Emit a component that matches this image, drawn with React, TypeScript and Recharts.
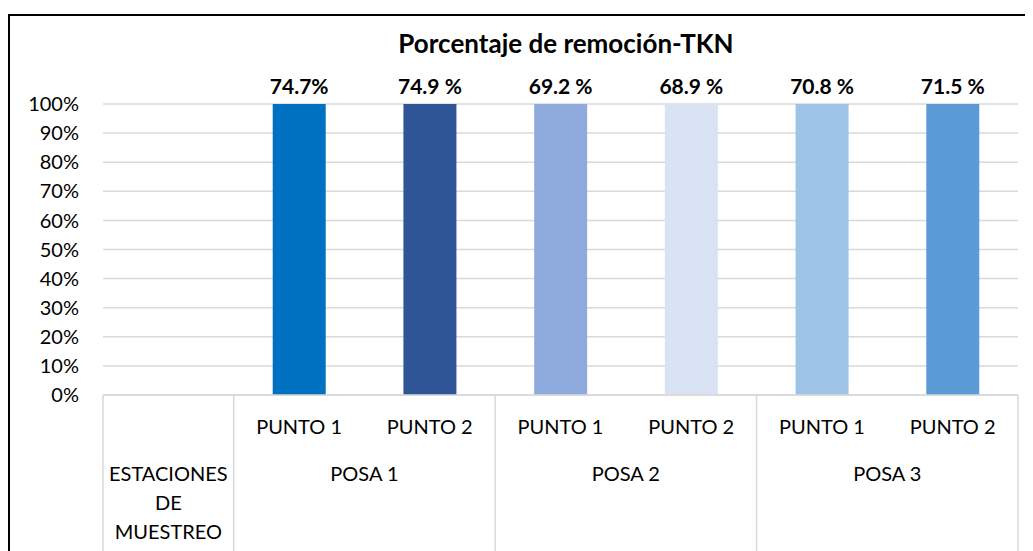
import React from "react";
import { BarChart, Bar, XAxis, YAxis, CartesianGrid, Cell, LabelList } from "recharts";

const stations = ["", "PUNTO 1", "PUNTO 2", "PUNTO 1", "PUNTO 2", "PUNTO 1", "PUNTO 2"];
const groups = ["ESTACIONES\nDE\nMUESTREO", "POSA 1", "POSA 1", "POSA 2", "POSA 2", "POSA 3", "POSA 3"];
const barValues: (number | null)[] = [null, 100, 100, 100, 100, 100, 100];
const removalLabels = ["", "74.7%", "74.9 %", "69.2 %", "68.9 %", "70.8 %", "71.5 %"];
const barColors = ["#ffffff", "#0070C0", "#2F5597", "#8FAADC", "#DAE3F3", "#9DC3E6", "#5B9BD5"];
const yTicks = [0, 10, 20, 30, 40, 50, 60, 70, 80, 90, 100];
const title = "Porcentaje de remoción-TKN";

const data = stations.map((s, i) => ({
  key: String(i),
  station: s,
  group: groups[i],
  value: barValues[i],
  label: removalLabels[i],
}));

const W = 1025;
const H = 543;
const M = { top: 96, right: 15, left: 0, bottom: 0 };
const Y_W = 95;
const X_H = 156;
const PLOT_W = W - M.left - M.right - Y_W;
const BAND = PLOT_W / data.length;
const FONT = "Lato, 'Open Sans', sans-serif";
const GRID = "#d9d9d9";

const XTick = (props: any) => {
  const { x, y, payload } = props;
  const i = payload.index;
  const g = groups[i];
  const isEnd = i === groups.length - 1 || groups[i + 1] !== g;
  let start = i;
  while (start > 0 && groups[start - 1] === g) start--;
  const runLen = i - start + 1;
  const groupCenter = x - ((runLen - 1) * BAND) / 2;
  const lines = g.split("\n");
  return (
    <g>
      {i === 0 && <line x1={x - BAND / 2} x2={x - BAND / 2} y1={y} y2={y + 200} stroke={GRID} strokeWidth={1.5} />}
      {stations[i] && (
        <text x={x} y={y + 39} textAnchor="middle" fontFamily={FONT} fontSize={20} fill="#000">
          {stations[i]}
        </text>
      )}
      {isEnd && (
        <>
          <line x1={x + BAND / 2} x2={x + BAND / 2} y1={y} y2={y + 200} stroke={GRID} strokeWidth={1.5} />
          {lines.map((ln, k) => (
            <text key={k} x={groupCenter} y={y + 86 + k * 29} textAnchor="middle" fontFamily={FONT} fontSize={20} fill="#000">
              {ln}
            </text>
          ))}
        </>
      )}
    </g>
  );
};

const TopLabel = (props: any) => {
  const { x, y, width, value } = props;
  if (!value) return null;
  return (
    <text x={x + width / 2} y={y - 10} textAnchor="middle" fontFamily={FONT} fontWeight="bold" fontSize={21} fill="#000">
      {value}
    </text>
  );
};

export default function App() {
  return (
    <div style={{ position: "relative", width: W, height: H, overflow: "hidden", background: "#fff" }}>
      <div
        style={{
          position: "absolute",
          left: 0,
          top: 6,
          width: 1100,
          height: 700,
          borderTop: "2px solid #000",
          borderLeft: "2px solid #000",
          boxSizing: "border-box",
        }}
      />
      <div
        style={{
          position: "absolute",
          left: 308,
          width: 500,
          top: 19,
          textAlign: "center",
          fontFamily: FONT,
          fontWeight: "bold",
          fontSize: 26,
          color: "#000",
          lineHeight: "32px",
        }}
      >
        {title}
      </div>
      <div style={{ position: "absolute", left: 0, top: 0 }}>
        <BarChart width={W} height={H} data={data} margin={M} barSize={53}>
          <CartesianGrid vertical={false} stroke={GRID} strokeWidth={1.5} />
          <XAxis
            dataKey="key"
            height={X_H}
            interval={0}
            tickLine={false}
            tickSize={0}
            tickMargin={0}
            axisLine={{ stroke: GRID, strokeWidth: 1.5 }}
            tick={<XTick />}
          />
          <YAxis
            width={Y_W}
            domain={[0, 100]}
            ticks={yTicks}
            interval={0}
            axisLine={false}
            tickLine={false}
            tickSize={0}
            tickMargin={24}
            tickFormatter={(v: number) => `${v}%`}
            tick={{ fontFamily: FONT, fontSize: 20, fill: "#000" }}
          />
          <Bar dataKey="value" isAnimationActive={false}>
            {data.map((d, i) => (
              <Cell key={d.key} fill={barColors[i]} />
            ))}
            <LabelList dataKey="label" content={<TopLabel />} />
          </Bar>
        </BarChart>
      </div>
    </div>
  );
}
